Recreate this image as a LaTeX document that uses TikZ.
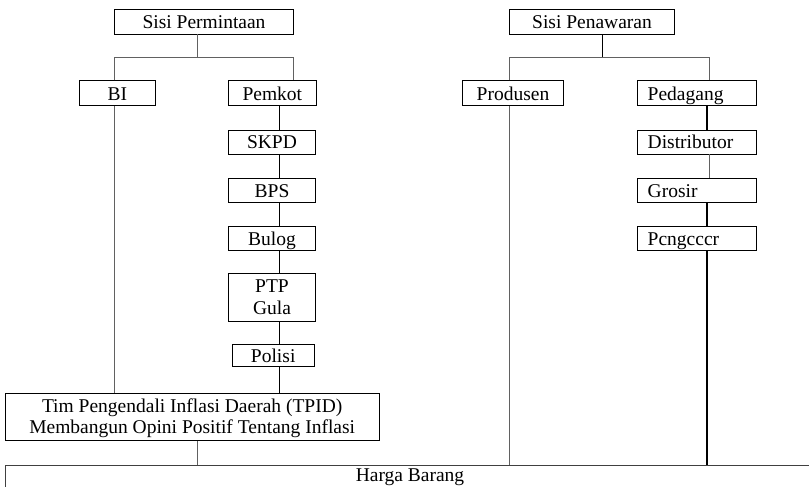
\documentclass[tikz,border=0pt]{standalone}
\usepackage{fontspec}
\setmainfont{Liberation Serif}
\begin{document}
\begin{tikzpicture}[x=1pt,y=-1pt,
  box/.style={draw=black,line width=0.9pt,inner sep=0pt,align=center,
    font=\fontsize{19.5}{21.3}\selectfont},
  onebox/.style={box,text height=13.6pt,text depth=0pt},
  leftbox/.style={onebox,minimum width=119.3pt,minimum height=24pt,
    text width=98pt,inner xsep=10.65pt,align=left},
  thinline/.style={draw=black!62,line width=0.8pt},
  thickline/.style={draw=black,line width=1.3pt}]
\useasboundingbox (0,0) rectangle (809,487);
% junction coordinates
\coordinate (pj) at (197.7,57.3);
\coordinate (bl) at (114.7,57.3);
\coordinate (pr) at (293.3,57.3);
\coordinate (xl) at (279.3,0);
\coordinate (qj) at (602.3,57.3);
\coordinate (ql) at (509.7,57.3);
\coordinate (qr) at (709.3,57.3);
\coordinate (xr) at (707,0);
% demand side
\node[onebox,minimum width=178.6pt,minimum height=25pt] (perm) at (204,21.5) {Sisi Permintaan};
\node[onebox,minimum width=76.7pt,minimum height=24.7pt] (bi) at (117.3,93.3) {BI};
\node[onebox,minimum width=87.3pt,minimum height=24.7pt] (pemkot) at (272.3,93.3) {Pemkot};
\node[onebox,minimum width=86.6pt,minimum height=24pt] (skpd) at (272,142) {SKPD};
\node[onebox,minimum width=86.6pt,minimum height=24pt] (bps) at (272,190.3) {BPS};
\node[onebox,minimum width=86.6pt,minimum height=23.7pt] (bulog) at (272,238.2) {Bulog};
\node[box,minimum width=86.6pt,minimum height=47.7pt] (ptp) at (272,297.2) {PTP\\Gula};
\node[onebox,minimum width=82pt,minimum height=22.7pt] (polisi) at (273.2,355.3) {Polisi};
\node[box,text depth=2pt,minimum width=374.3pt,minimum height=47.4pt] (tpid) at (192.2,417)
  {Tim Pengendali Inflasi Daerah (TPID)\\Membangun Opini Positif Tentang Inflasi};
% supply side
\node[onebox,minimum width=164.6pt,minimum height=25pt] (pen) at (592,21.5) {Sisi Penawaran};
\node[onebox,minimum width=101.4pt,minimum height=24.7pt] (prod) at (513,93.3) {Produsen};
\node[leftbox,minimum height=24.7pt] (ped) at (696.7,93.3) {Pedagang};
\node[leftbox] (dist) at (696.7,142) {Distributor};
\node[leftbox] (gros) at (696.7,190.3) {Grosir};
\node[leftbox,minimum height=23.7pt] (peng) at (696.7,238.2) {Pcngcccr};
% bottom
\node[box,draw=black!75,anchor=north,minimum width=810pt,
  text height=10.8pt,text depth=9pt,inner ysep=6pt] (harga) at (410,464.7) {Harga Barang};
% demand connectors
\draw[thinline] (perm.south -| pj) -- (pj);
\draw[thinline] (bi.north -| bl) -- (bl) -- (pr) -- (pemkot.north -| pr);
\draw[thinline] (bi.south -| bl) -- (tpid.north -| bl);
\draw[thickline] (pemkot.south -| xl) -- (skpd.north -| xl);
\draw[thickline] (skpd.south -| xl) -- (bps.north -| xl);
\draw[thickline] (bps.south -| xl) -- (bulog.north -| xl);
\draw[thickline] (bulog.south -| xl) -- (ptp.north -| xl);
\draw[thickline] (ptp.south -| xl) -- (polisi.north -| xl);
\draw[thickline] (polisi.south -| xl) -- (tpid.north -| xl);
\draw[thinline] (tpid.south -| pj) -- (harga.north -| pj);
% supply connectors
\draw[thickline] (pen.south -| qj) -- (qj);
\draw[thinline] (prod.north -| ql) -- (ql) -- (qr) -- (ped.north -| qr);
\draw[thinline] (prod.south -| ql) -- (harga.north -| ql);
\draw[thickline] (ped.south -| xr) -- (dist.north -| xr);
\draw[thinline] (dist.south -| qr) -- (gros.north -| qr);
\draw[thickline] (gros.south -| xr) -- (peng.north -| xr);
\draw[thickline] (peng.south -| xr) -- (harga.north -| xr);
\end{tikzpicture}
\end{document}
